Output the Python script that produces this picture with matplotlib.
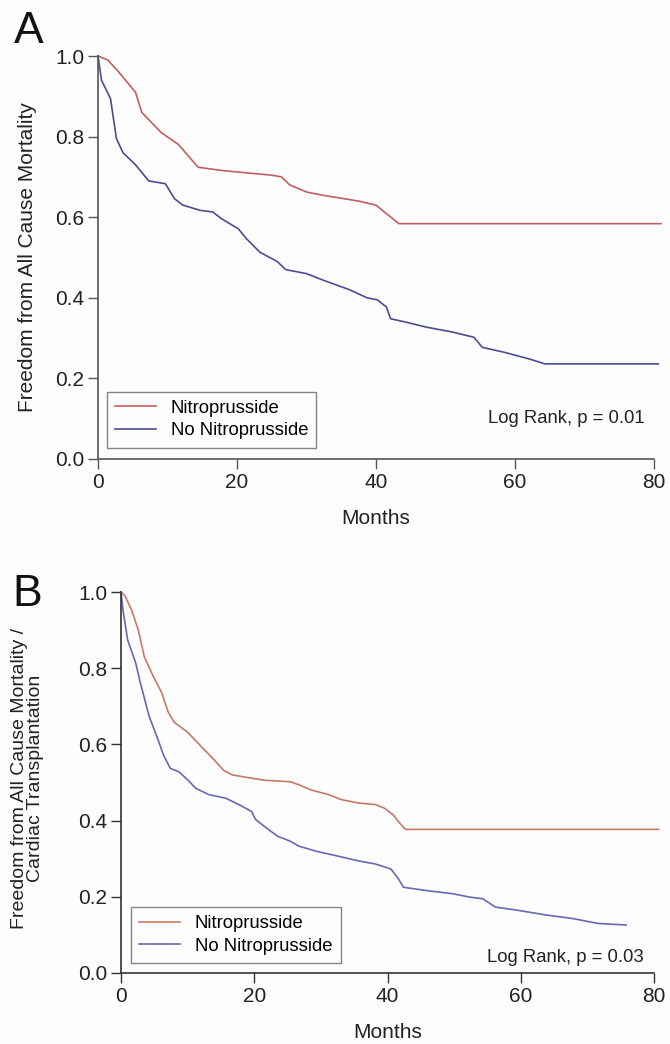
import matplotlib
matplotlib.use("Agg")
import matplotlib.pyplot as plt

plt.rcParams['font.family'] = ['Liberation Sans', 'DejaVu Sans']

# ---------------- Panel A data ----------------
a_nitro_x = [0, 1.4, 3.0, 5.4, 6.3, 9.1, 11.6, 14.4, 17.8, 21.4, 25.1, 26.4, 27.6,
             30.1, 32.5, 35.0, 37.5, 40.0, 41.2, 43.3, 81.0]
a_nitro_y = [1.0, 0.99, 0.96, 0.91, 0.86, 0.81, 0.78, 0.724, 0.716, 0.71, 0.704, 0.70,
             0.68, 0.662, 0.654, 0.647, 0.64, 0.63, 0.613, 0.584, 0.584]

a_none_x = [0, 0.5, 1.8, 2.65, 3.6, 5.4, 7.3, 9.7, 11.0, 12.2, 14.7, 16.5, 17.8, 20.2,
            21.4, 23.3, 25.8, 27.0, 30.0, 32.5, 36.2, 38.7, 40.2, 41.5, 42.1, 44.2,
            47.3, 51.0, 54.1, 55.3, 58.4, 62.1, 64.3, 80.6]
a_none_y = [1.0, 0.94, 0.894, 0.795, 0.76, 0.73, 0.69, 0.683, 0.646, 0.63, 0.617,
            0.613, 0.596, 0.571, 0.546, 0.513, 0.49, 0.47, 0.46, 0.443, 0.42, 0.40,
            0.395, 0.377, 0.348, 0.34, 0.327, 0.315, 0.302, 0.277, 0.265, 0.248,
            0.236, 0.236]

# ---------------- Panel B data ----------------
b_nitro_x = [0, 0.6, 1.6, 2.6, 3.5, 4.8, 6.1, 7.1, 8.0, 10.0, 11.9, 13.8, 15.4, 16.7,
             19.0, 21.5, 25.4, 26.7, 28.6, 31.2, 33.1, 35.7, 38.2, 39.5, 40.8, 41.8,
             42.7, 80.7]
b_nitro_y = [1.0, 0.99, 0.952, 0.90, 0.83, 0.78, 0.736, 0.684, 0.658, 0.632, 0.597,
             0.563, 0.532, 0.52, 0.513, 0.506, 0.502, 0.494, 0.48, 0.468, 0.455,
             0.446, 0.442, 0.433, 0.416, 0.394, 0.377, 0.377]

b_none_x = [0, 0.3, 1.0, 2.2, 2.9, 4.2, 5.5, 6.4, 7.4, 8.7, 10.3, 11.2, 13.2, 15.7,
            17.7, 19.6, 20.2, 21.5, 23.5, 25.4, 26.7, 29.2, 32.5, 35.7, 38.2, 40.5,
            41.5, 42.4, 46.0, 49.8, 52.4, 54.3, 56.2, 59.4, 63.9, 67.8, 71.6, 75.8]
b_none_y = [1.0, 0.952, 0.874, 0.814, 0.762, 0.675, 0.615, 0.571, 0.537, 0.528,
            0.502, 0.485, 0.468, 0.459, 0.442, 0.424, 0.403, 0.385, 0.359, 0.346,
            0.333, 0.32, 0.307, 0.294, 0.286, 0.273, 0.251, 0.225, 0.216, 0.208,
            0.199, 0.195, 0.173, 0.165, 0.152, 0.143, 0.13, 0.126]

x_ticks = [0, 20, 40, 60, 80]
y_ticks = [0.0, 0.2, 0.4, 0.6, 0.8, 1.0]
legend_labels = ["Nitroprusside", "No Nitroprusside"]

W, H = 670, 1044
fig = plt.figure(figsize=(W / 100, H / 100), dpi=100)
fig.patch.set_facecolor('#fdfdfd')


def px_axes(l, r, t, b):
    return fig.add_axes([l / W, 1 - b / H, (r - l) / W, (b - t) / H])


def style(ax, spine_col):
    ax.set_facecolor('#fdfdfd')
    for s in ['top', 'right']:
        ax.spines[s].set_visible(False)
    for s in ['left', 'bottom']:
        ax.spines[s].set_color(spine_col)
        ax.spines[s].set_linewidth(1.2)
    ax.set_xlim(0, 80)
    ax.set_ylim(0, 1.0)
    ax.set_xticks(x_ticks)
    ax.set_yticks(y_ticks)
    ax.set_xticklabels([str(v) for v in x_ticks])
    ax.set_yticklabels([f"{v:.1f}" for v in y_ticks])
    ax.tick_params(direction='out', length=7, width=1.0, color=spine_col,
                   labelsize=15, labelcolor='#222222', pad=3)
    ax.set_xlabel("Months", fontsize=15, color='#222222', labelpad=12)


# Panel A
axA = px_axes(98, 654, 56, 459)
style(axA, '#555555')
cA_r, cA_b = '#c25e5e', '#4c4c92'
axA.plot(a_nitro_x, a_nitro_y, color=cA_r, lw=1.2, clip_on=False, label=legend_labels[0])
axA.plot(a_none_x, a_none_y, color=cA_b, lw=1.2, clip_on=False, label=legend_labels[1])
axA.set_ylabel("Freedom from All Cause Mortality", fontsize=15, color='#222222')
axA.yaxis.set_label_coords(-0.110, 0.5)
legA = axA.legend(loc='lower left', bbox_to_anchor=(0.016, 0.028), fontsize=13.3,
                  frameon=True, fancybox=False, edgecolor='#666666', handlelength=2.2,
                  handletextpad=0.8, borderpad=0.45, labelspacing=0.3, borderaxespad=0)
legA.get_frame().set_linewidth(1.0)
axA.text(78.6, 0.10, "Log Rank, p = 0.01", fontsize=13.3, ha='right', va='center',
         color='#222222')

# Panel B
axB = px_axes(121, 654, 592, 973)
style(axB, '#333333')
cB_r, cB_b = '#c47a68', '#6868b6'
axB.plot(b_nitro_x, b_nitro_y, color=cB_r, lw=1.2, clip_on=False, label=legend_labels[0])
axB.plot(b_none_x, b_none_y, color=cB_b, lw=1.2, clip_on=False, label=legend_labels[1])
axB.set_ylabel("Freedom from All Cause Mortality /\nCardiac Transplantation", fontsize=14,
               color='#222222', linespacing=0.95)
axB.yaxis.set_label_coords(-0.1445, 0.51)
legB = axB.legend(loc='lower left', bbox_to_anchor=(0.019, 0.026), fontsize=13.3,
                  frameon=True, fancybox=False, edgecolor='#666666', handlelength=2.2,
                  handletextpad=0.8, borderpad=0.45, labelspacing=0.3, borderaxespad=0)
legB.get_frame().set_linewidth(1.0)
axB.text(78.5, 0.04, "Log Rank, p = 0.03", fontsize=13.3, ha='right', va='center',
         color='#222222')

fig.text(14 / W, 1 - 43 / H, "A", fontsize=32, ha='left', va='baseline', color='#111111')
fig.text(12 / W, 1 - 606 / H, "B", fontsize=32, ha='left', va='baseline', color='#111111')

fig.savefig("out.png", dpi=100, facecolor=fig.get_facecolor())
